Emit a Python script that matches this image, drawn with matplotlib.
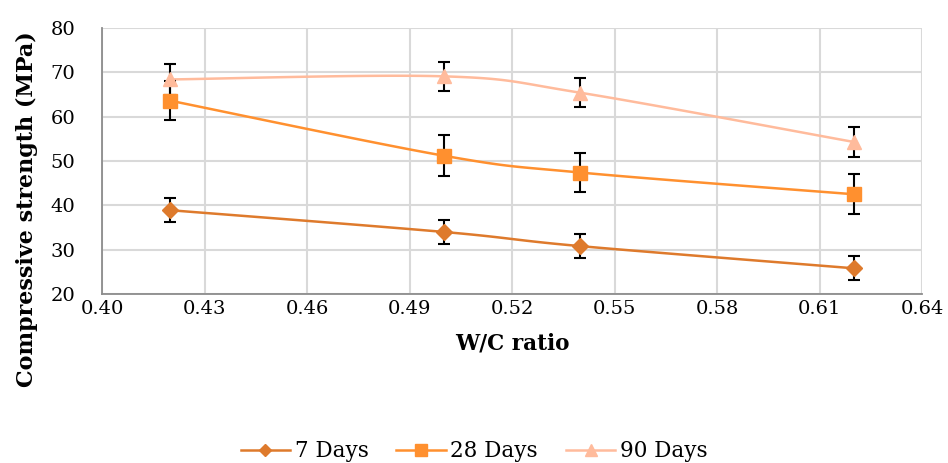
import matplotlib.pyplot as plt
import numpy as np

plt.rcParams['font.family'] = ['DejaVu Serif']

wc = [0.42, 0.50, 0.54, 0.62]
days7 = [38.9, 34.0, 30.8, 25.8]
days28 = [63.6, 51.2, 47.4, 42.5]
days90 = [68.4, 69.1, 65.4, 54.3]
err7 = [2.7, 2.8, 2.7, 2.7]
err28 = [4.4, 4.6, 4.5, 4.5]
err90 = [3.5, 3.3, 3.3, 3.4]

labels = ['7 Days', '28 Days', '90 Days']
colors = ['#DE7A2C', '#FF902F', '#FFBB9C']
markers = ['D', 's', '^']
msizes = [8, 10, 10]


def smooth(x, y, n=30):
    # Catmull-Rom style bezier, like Excel's smoothed line
    x = np.asarray(x, float)
    y = np.asarray(y, float)
    px = np.concatenate([[x[0]], x, [x[-1]]])
    py = np.concatenate([[y[0]], y, [y[-1]]])
    xs, ys = [], []
    t = np.linspace(0, 1, n)
    for i in range(1, len(px) - 2):
        p0 = np.array([px[i], py[i]])
        p3 = np.array([px[i + 1], py[i + 1]])
        c1 = p0 + (p3 - np.array([px[i - 1], py[i - 1]])) / 6
        c2 = p3 - (np.array([px[i + 2], py[i + 2]]) - p0) / 6
        b = (np.outer((1 - t) ** 3, p0) + np.outer(3 * (1 - t) ** 2 * t, c1)
             + np.outer(3 * (1 - t) * t ** 2, c2) + np.outer(t ** 3, p3))
        xs.extend(b[:, 0])
        ys.extend(b[:, 1])
    return xs, ys


fig = plt.figure(figsize=(9.48, 4.63), dpi=100)
ax = fig.add_axes([0.1076, 0.365, 0.865, 0.5745])

series = [days7, days28, days90]
errs = [err7, err28, err90]
handles = []
for vals, e, c, m, ms, lab in zip(series, errs, colors, markers, msizes, labels):
    sx, sy = smooth(wc, vals)
    ax.plot(sx, sy, color=c, lw=1.8, zorder=3)
    ax.errorbar(wc, vals, yerr=e, fmt='none', ecolor='black', elinewidth=1.5,
                capsize=4.5, capthick=1.5, zorder=4)
    ax.plot(wc, vals, ls='none', marker=m, ms=ms, color=c, zorder=5)
    h, = ax.plot([], [], color=c, lw=1.8, marker=m, ms=ms * 0.8, label=lab)
    handles.append(h)

ax.set_xlim(0.40, 0.64)
ax.set_ylim(20, 80)
ax.set_xticks(np.arange(0.40, 0.641, 0.03))
ax.set_xticklabels(['%.2f' % v for v in np.arange(0.40, 0.641, 0.03)])
ax.set_yticks(range(20, 81, 10))
ax.grid(True, color='#D9D9D9', lw=1.5)
ax.set_axisbelow(True)
for s in ['top', 'right']:
    ax.spines[s].set_visible(False)
for s in ['left', 'bottom']:
    ax.spines[s].set_color('#8C8C8C')
    ax.spines[s].set_linewidth(1.3)
ax.tick_params(length=0, labelsize=14, colors='black')
ax.tick_params(axis='y', pad=19)
ax.tick_params(axis='x', pad=4)

ax.set_xlabel('W/C ratio', fontsize=15.5, fontweight='bold', labelpad=11)
ax.set_ylabel('Compressive strength (MPa)', fontsize=16, fontweight='bold')
ax.yaxis.set_label_coords(-0.078, 0.32)

fig.legend(handles=handles, loc='lower center', bbox_to_anchor=(0.5, -0.04), ncol=3,
           frameon=False, fontsize=15.5, handlelength=2.3, columnspacing=1.3,
           handletextpad=0.2)

fig.savefig('out.png', dpi=100)
